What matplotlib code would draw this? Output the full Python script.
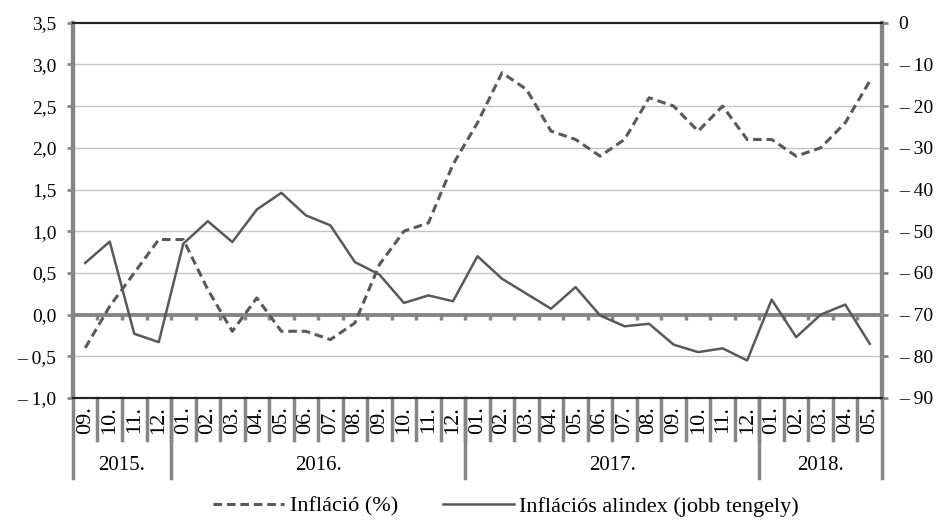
import matplotlib.pyplot as plt
import matplotlib.transforms as mtransforms
import numpy as np

plt.rcParams["font.family"] = ["Liberation Serif", "DejaVu Serif"]

months = ["09.", "10.", "11.", "12.",
          "01.", "02.", "03.", "04.", "05.", "06.", "07.", "08.", "09.", "10.", "11.", "12.",
          "01.", "02.", "03.", "04.", "05.", "06.", "07.", "08.", "09.", "10.", "11.", "12.",
          "01.", "02.", "03.", "04.", "05."]
years = ["2015.", "2016.", "2017.", "2018."]
year_counts = [4, 12, 12, 5]

inflation = [-0.4, 0.1, 0.5, 0.9,
             0.9, 0.3, -0.2, 0.2, -0.2, -0.2, -0.3, -0.1, 0.6, 1.0, 1.1, 1.8,
             2.3, 2.9, 2.7, 2.2, 2.1, 1.9, 2.1, 2.6, 2.5, 2.2, 2.5, 2.1,
             2.1, 1.9, 2.0, 2.3, 2.8]
subindex = [-57.6, -52.5, -74.6, -76.6,
            -53.0, -47.6, -52.6, -44.8, -40.8, -46.2, -48.6, -57.4, -60.4, -67.2, -65.4, -66.8,
            -56.0, -61.4, -65.0, -68.6, -63.4, -70.2, -72.8, -72.2, -77.2, -79.0, -78.1, -81.0,
            -66.4, -75.4, -70.0, -67.6, -77.0]

left_ticks = np.arange(-1.0, 3.51, 0.5)
right_ticks = np.arange(-90, 1, 10)


def fmt_left(v):
    s = f"{abs(v):.1f}".replace(".", ",")
    return ("\u2013 " + s) if v < 0 else s


def fmt_right(v):
    return ("\u2013 " + str(abs(int(v)))) if v < 0 else str(int(v))


line_col = "#595959"
grey = "#858585"
fs = 14

fig = plt.figure(figsize=(9.39, 5.21), dpi=100)
ax = fig.add_axes([0.0777, 0.2361, 0.8616, 0.7203])
ax2 = ax.twinx()

x = np.arange(len(months))
ax.set_xlim(-0.5, len(months) - 0.5)
ax.set_ylim(-1.0, 3.5)
ax2.set_ylim(-90, 0)

for v in left_ticks[1:-1]:
    ax.axhline(v, color="#c4c4c4", lw=1.0, zorder=0)
ax.axhline(0, color=grey, lw=2.8, zorder=1)
ax.vlines(x[:-1] + 0.5, -0.07, 0, color=grey, lw=2.5, zorder=1)

l1, = ax.plot(x, inflation, color=line_col, lw=2.2, ls=(0, (2.8, 1.6)), zorder=3,
              label="Infláció (%)")
l2, = ax2.plot(x, subindex, color=line_col, lw=1.8, zorder=3,
               label="Inflációs alindex (jobb tengely)")

ax.set_yticks(left_ticks)
ax.set_yticklabels([fmt_left(v) for v in left_ticks])
ax2.set_yticks(right_ticks)
ax2.set_yticklabels([fmt_right(v) for v in right_ticks])
ax.set_xticks([])
ax.tick_params(axis="y", length=4, width=2, color=grey, labelsize=fs, pad=8)
ax2.tick_params(axis="y", length=4, width=2, color=grey, labelsize=fs, pad=8)

for a in (ax, ax2):
    a.spines["left"].set_color(grey)
    a.spines["left"].set_linewidth(3)
    a.spines["right"].set_color(grey)
    a.spines["right"].set_linewidth(3)
    a.spines["top"].set_color("#222222")
    a.spines["top"].set_linewidth(1.5)
    a.spines["bottom"].set_color("#222222")
    a.spines["bottom"].set_linewidth(1.5)

# category axis below the plot
trans = mtransforms.blended_transform_factory(ax.transData, ax.transAxes)
for i, m in enumerate(months):
    ax.text(i, -0.058, m, rotation=90, ha="center", va="center", fontsize=16,
            transform=trans)
for b in x[:-1] + 0.5:
    ax.plot([b, b], [0, -0.112], color=grey, lw=2.5, transform=trans, clip_on=False)

edges = np.concatenate([[0], np.cumsum(year_counts)]) - 0.5
for e in edges:
    ax.plot([e, e], [0, -0.213], color=grey, lw=2.5, transform=trans, clip_on=False)
for k, y in enumerate(years):
    ax.text((edges[k] + edges[k + 1]) / 2, -0.18, y, ha="center", va="center",
            fontsize=15, transform=trans)

fig.legend(handles=[l1, l2], loc="center", bbox_to_anchor=(0.539, 0.028), ncol=2,
           frameon=False, fontsize=16, handlelength=3.2, columnspacing=2.0,
           handletextpad=0.25, borderpad=0.1)

fig.savefig("out.png", dpi=100)
